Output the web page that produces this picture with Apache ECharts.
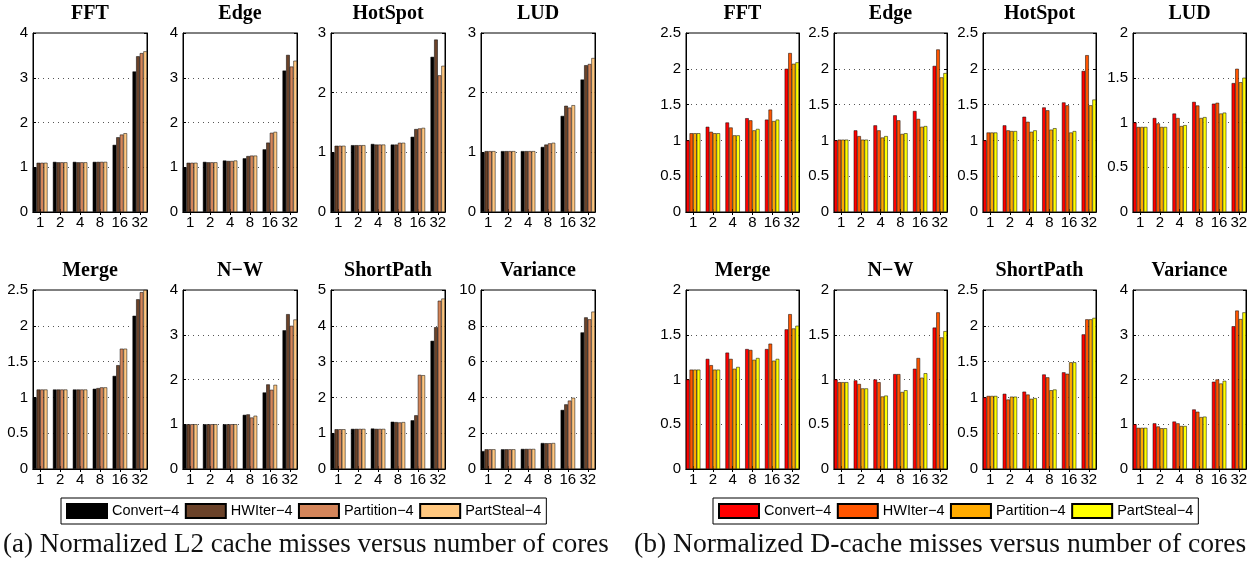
<!DOCTYPE html>
<html><head><meta charset="utf-8">
<script src="https://cdn.jsdelivr.net/npm/echarts@6/dist/echarts.min.js"></script>
<style>html,body{margin:0;padding:0;background:#fff}#c{width:1249px;height:562px}</style>
</head><body><div id="c"></div>
<script>
// ---------------- data ----------------
const cores = ['1', '2', '4', '8', '16', '32'];
const seriesNames = ['Convert\u22124', 'HWIter\u22124', 'Partition\u22124', 'PartSteal\u22124'];
const benchmarks = ['FFT', 'Edge', 'HotSpot', 'LUD', 'Merge', 'N\u2212W', 'ShortPath', 'Variance'];

// (a) normalized L2 cache misses: [Convert, HWIter, Partition, PartSteal] per benchmark
const l2FFT = [[1.00,1.12,1.12,1.12,1.50,3.14],[1.10,1.11,1.11,1.12,1.67,3.48],[1.10,1.11,1.11,1.12,1.73,3.55],[1.10,1.11,1.11,1.12,1.76,3.59]];
const l2Edge = [[1.00,1.12,1.15,1.20,1.40,3.16],[1.10,1.11,1.14,1.25,1.55,3.51],[1.10,1.11,1.14,1.26,1.77,3.25],[1.10,1.11,1.15,1.26,1.79,3.38]];
const l2HotSpot = [[1.00,1.12,1.14,1.13,1.26,2.60],[1.11,1.12,1.13,1.13,1.39,2.89],[1.11,1.12,1.13,1.16,1.40,2.29],[1.11,1.12,1.13,1.16,1.41,2.45]];
const l2LUD = [[1.00,1.02,1.02,1.09,1.61,2.22],[1.02,1.02,1.02,1.13,1.78,2.46],[1.02,1.02,1.02,1.15,1.75,2.48],[1.02,1.02,1.02,1.16,1.79,2.58]];
const l2Merge = [[1.00,1.11,1.11,1.12,1.30,2.14],[1.11,1.11,1.11,1.13,1.45,2.37],[1.11,1.11,1.11,1.14,1.68,2.47],[1.11,1.11,1.11,1.14,1.68,2.50]];
const l2NW = [[1.00,1.00,1.00,1.21,1.71,3.10],[1.00,1.00,1.00,1.22,1.89,3.46],[1.00,1.00,1.00,1.15,1.77,3.20],[1.00,1.00,1.00,1.19,1.88,3.34]];
const l2ShortPath = [[1.00,1.12,1.13,1.32,1.36,3.58],[1.11,1.12,1.12,1.31,1.50,3.96],[1.11,1.12,1.12,1.30,2.63,4.70],[1.11,1.12,1.12,1.31,2.62,4.76]];
const l2Variance = [[1.00,1.10,1.12,1.45,3.30,7.63],[1.10,1.10,1.12,1.44,3.61,8.47],[1.10,1.10,1.12,1.44,3.82,8.36],[1.10,1.10,1.12,1.45,3.98,8.79]];
const l2Max = [4, 4, 3, 3, 2.5, 4, 5, 10];
const l2Step = [1, 1, 1, 1, 0.5, 1, 1, 2];

// (b) normalized D-cache misses
const dcFFT = [[1.00,1.19,1.25,1.31,1.29,2.00],[1.10,1.12,1.18,1.28,1.43,2.22],[1.10,1.10,1.07,1.14,1.27,2.07],[1.10,1.10,1.07,1.16,1.29,2.09]];
const dcEdge = [[1.00,1.14,1.21,1.35,1.41,2.04],[1.01,1.06,1.14,1.28,1.30,2.27],[1.01,1.01,1.04,1.09,1.19,1.88],[1.01,1.01,1.06,1.10,1.20,1.94]];
const dcHotSpot = [[1.00,1.21,1.33,1.46,1.53,1.97],[1.11,1.14,1.26,1.42,1.49,2.19],[1.11,1.13,1.12,1.15,1.11,1.49],[1.11,1.13,1.14,1.17,1.13,1.57]];
const dcLUD = [[1.00,1.05,1.10,1.23,1.21,1.44],[0.95,0.99,1.05,1.19,1.22,1.60],[0.95,0.95,0.96,1.05,1.10,1.45],[0.95,0.95,0.97,1.06,1.11,1.50]];
const dcMerge = [[1.00,1.23,1.30,1.34,1.34,1.56],[1.11,1.16,1.23,1.33,1.40,1.73],[1.11,1.11,1.12,1.22,1.21,1.57],[1.11,1.11,1.14,1.24,1.23,1.60]];
const dcNW = [[1.00,0.99,1.00,1.06,1.12,1.58],[0.97,0.95,0.97,1.06,1.24,1.75],[0.97,0.90,0.81,0.86,1.02,1.47],[0.97,0.90,0.82,0.88,1.07,1.54]];
const dcShortPath = [[1.00,1.05,1.08,1.32,1.35,1.88],[1.02,0.97,1.04,1.28,1.33,2.09],[1.02,1.01,0.98,1.10,1.49,2.09],[1.02,1.01,0.99,1.11,1.49,2.11]];
const dcVariance = [[1.00,1.02,1.06,1.33,1.95,3.19],[0.92,0.95,1.02,1.28,2.00,3.54],[0.92,0.91,0.96,1.16,1.91,3.35],[0.92,0.91,0.96,1.17,1.97,3.50]];
const dcMax = [2.5, 2.5, 2.5, 2, 2, 2, 2.5, 4];
const dcStep = [0.5, 0.5, 0.5, 0.5, 0.5, 0.5, 0.5, 1];

const captionA = '(a) Normalized L2 cache misses versus number of cores';
const captionB = '(b) Normalized D-cache misses versus number of cores';

// ---------------- styling / layout ----------------
const copper = ['#000000', '#6A4229', '#D4855A', '#FFC77F'];
const autumn = ['#FF0000', '#FF5500', '#FFAA00', '#FFFF00'];
const SANS = '"Liberation Sans", Arial, sans-serif';
const SERIF = '"Liberation Serif", "Times New Roman", serif';
const rowTops = [33, 290];
const plotH = 179;
const groupFrac = 4 / 5.5;           // MATLAB grouped bar width
const xMin = 1 - groupFrac / 2, xMax = cores.length + groupFrac / 2;
const xPos = cores.map((c, i) => i + 1);

const panels = [
  { data: [l2FFT, l2Edge, l2HotSpot, l2LUD, l2Merge, l2NW, l2ShortPath, l2Variance], max: l2Max, step: l2Step,
    colors: copper, lefts: [33, 183, 331, 481], width: 114, suffix: '', legendLeft: 61,
    caption: captionA, capX: 3, capSize: 27 },
  { data: [dcFFT, dcEdge, dcHotSpot, dcLUD, dcMerge, dcNW, dcShortPath, dcVariance], max: dcMax, step: dcStep,
    colors: autumn, lefts: [686, 834, 983, 1133], width: 113, suffix: '\u200b', legendLeft: 713,
    caption: captionB, capX: 634, capSize: 27.6 }
];

const grids = [], xAxes = [], yAxes = [], series = [], graphics = [], legends = [];
const axisBlack = { show: true, lineStyle: { color: '#000', width: 1 } };

panels.forEach((p) => {
  benchmarks.forEach((b, bi) => {
    const row = Math.floor(bi / 4), col = bi % 4;
    const gi = grids.length;
    grids.push({ left: p.lefts[col], top: rowTops[row], width: p.width, height: plotH,
      show: true, borderColor: '#000', borderWidth: 1, backgroundColor: 'transparent',
      containLabel: false, outerBoundsMode: 'none' });
    // bottom + top x axes
    xAxes.push({ gridIndex: gi, type: 'value', position: 'bottom', min: xMin, max: xMax,
      axisLine: axisBlack,
      axisTick: { show: true, inside: true, length: 3, customValues: xPos, lineStyle: { color: '#000' } },
      axisLabel: { show: true, customValues: xPos, formatter: (v) => cores[Math.round(v) - 1],
        fontSize: 15, fontFamily: SANS, color: '#000', margin: 3, hideOverlap: false },
      splitLine: { show: false } });
    xAxes.push({ gridIndex: gi, type: 'value', position: 'top', min: xMin, max: xMax,
      axisLine: axisBlack,
      axisTick: { show: true, inside: true, length: 3, customValues: xPos, lineStyle: { color: '#000' } },
      axisLabel: { show: false }, splitLine: { show: false } });
    // left + right y axes
    yAxes.push({ gridIndex: gi, type: 'value', position: 'left', min: 0, max: p.max[bi], interval: p.step[bi],
      axisLine: axisBlack,
      axisTick: { show: true, inside: true, length: 3, lineStyle: { color: '#000' } },
      axisLabel: { fontSize: 15, fontFamily: SANS, color: '#000', margin: 5 },
      splitLine: { show: true, showMinLine: false, showMaxLine: false,
        lineStyle: { color: '#555', width: 1, type: [1, 4] } } });
    yAxes.push({ gridIndex: gi, type: 'value', position: 'right', min: 0, max: p.max[bi], interval: p.step[bi],
      axisLine: axisBlack,
      axisTick: { show: true, inside: true, length: 3, lineStyle: { color: '#000' } },
      axisLabel: { show: false }, splitLine: { show: false } });
    p.data[bi].forEach((vals, si) => {
      series.push({ type: 'bar', name: seriesNames[si] + p.suffix,
        xAxisIndex: gi * 2, yAxisIndex: gi * 2,
        data: vals.map((v, i) => [xPos[i], v]),
        barGap: '0%', barCategoryGap: ((1 - groupFrac) * 100).toFixed(1) + '%',
        itemStyle: { color: p.colors[si], borderColor: '#000', borderWidth: 0.5 },
        silent: true, animation: false });
    });
    graphics.push({ type: 'text', x: p.lefts[col] + p.width / 2, y: rowTops[row] - 19,
      style: { text: b, align: 'center', verticalAlign: 'middle', fill: '#000',
        font: 'bold 20px ' + SERIF } });
  });
  legends.push({ data: seriesNames.map((n) => n + p.suffix), left: p.legendLeft, top: 498,
    orient: 'horizontal', itemWidth: 40, itemHeight: 14, itemGap: 5.5, padding: [5, 5],
    borderColor: '#000', borderWidth: 1, icon: 'rect', selectedMode: false,
    formatter: (n) => n.replace('\u200b', ''),
    textStyle: { fontSize: 14.5, fontFamily: SANS, color: '#000' } });
  graphics.push({ type: 'text', x: p.capX, y: 545,
    style: { text: p.caption, align: 'left', verticalAlign: 'middle', fill: '#111',
      font: p.capSize + 'px ' + SERIF } });
});

const chart = echarts.init(document.getElementById('c'), null, { renderer: 'canvas' });
chart.setOption({
  animation: false,
  backgroundColor: '#fff',
  grid: grids, xAxis: xAxes, yAxis: yAxes, series: series,
  legend: legends, graphic: graphics
});
</script></body></html>
